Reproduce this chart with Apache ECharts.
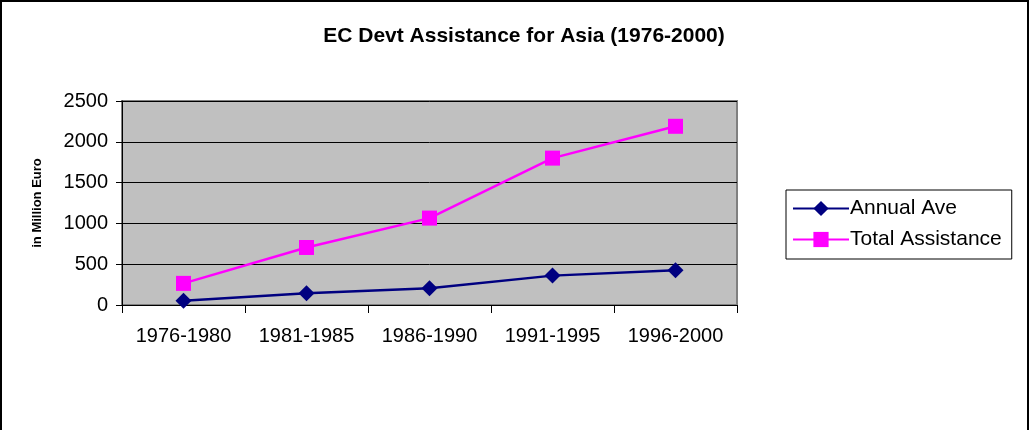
<!DOCTYPE html>
<html>
<head>
<meta charset="utf-8">
<script src="https://cdn.jsdelivr.net/npm/echarts@6/dist/echarts.min.js"></script>
<style>
  html, body { margin: 0; padding: 0; background: #fff; }
  #chart { width: 1029px; height: 430px; box-sizing: border-box; border: 2px solid #000; border-bottom: none; }
</style>
</head>
<body>
<div id="chart"></div>
<script>
const periods = ['1976-1980', '1981-1985', '1986-1990', '1991-1995', '1996-2000']
const annualAve = [53, 143, 205, 360, 427]
const totalAssistance = [265, 705, 1065, 1800, 2190]

const chart = echarts.init(document.getElementById('chart'))

chart.setOption({
  animation: false,
  textStyle: { fontFamily: 'Liberation Sans, Arial, sans-serif' },
  title: {
    text: 'EC Devt Assistance for Asia (1976-2000)',
    left: 517,
    top: 19,
    textAlign: 'center',
    textStyle: { fontSize: 21, fontWeight: 'bold', color: '#000' }
  },
  grid: {
    left: 120, top: 99, width: 615, height: 204,
    show: true,
    backgroundColor: '#c0c0c0',
    borderColor: '#808080',
    borderWidth: 2
  },
  legend: {
    orient: 'vertical',
    left: 784,
    top: 188,
    padding: [8, 10, 9, 6],
    itemGap: 10,
    itemWidth: 56,
    itemHeight: 19,
    borderColor: '#000',
    borderWidth: 1,
    backgroundColor: '#fff',
    textStyle: { fontSize: 21, color: '#000', padding: [0, 0, 0, -4] },
    data: ['Annual Ave', 'Total Assistance']
  },
  xAxis: {
    type: 'category',
    data: periods,
    boundaryGap: true,
    axisLine: { lineStyle: { color: '#000', width: 1 } },
    axisTick: { show: true, interval: 0, length: 8, lineStyle: { color: '#000' } },
    axisLabel: { fontSize: 20, color: '#000', margin: 21, interval: 0 }
  },
  yAxis: {
    type: 'value',
    min: 0,
    max: 2500,
    interval: 500,
    name: 'in Million Euro',
    nameLocation: 'middle',
    nameGap: 78,
    nameTextStyle: { fontSize: 13, fontWeight: 'bold', color: '#000' },
    axisLine: { show: true, lineStyle: { color: '#000', width: 1 } },
    axisTick: { show: true, length: 6, lineStyle: { color: '#000' } },
    axisLabel: { fontSize: 20, color: '#000', margin: 14, formatter: v => String(v) },
    splitLine: { show: true, lineStyle: { color: '#000', width: 1 } }
  },
  series: [
    {
      name: 'Annual Ave',
      type: 'line',
      data: annualAve,
      symbol: 'diamond',
      symbolSize: 16,
      color: '#000080',
      lineStyle: { color: '#000080', width: 2.5 },
      itemStyle: { color: '#000080' }
    },
    {
      name: 'Total Assistance',
      type: 'line',
      data: totalAssistance,
      symbol: 'rect',
      symbolSize: 15,
      color: '#ff00ff',
      lineStyle: { color: '#ff00ff', width: 2.5 },
      itemStyle: { color: '#ff00ff' }
    }
  ]
})
</script>
</body>
</html>
